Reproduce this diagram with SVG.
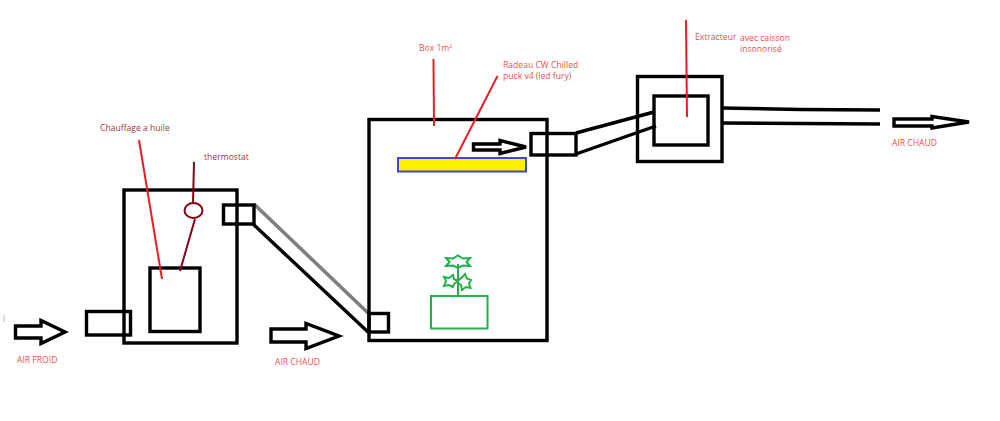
<svg xmlns="http://www.w3.org/2000/svg" width="1000" height="421" viewBox="0 0 1000 421">
<style>
.k{fill:none;stroke:#000;stroke-width:3.400}
.a{fill:#fff;stroke:#000;stroke-width:3.400;stroke-linejoin:miter}
.r{fill:none;stroke:#ed1c24;stroke-width:2}
.d{fill:none;stroke:#880015;stroke-width:2}
.g{fill:none;stroke:#22b14c;stroke-width:2}
text{font-family:"Open Sans","Noto Sans","Liberation Sans",sans-serif;font-size:8.6px;fill:#ed1c24;fill-opacity:.85}
text.m{fill:#880015}
</style>
<rect width="1000" height="421" fill="#fff"/>
<g id="connectors">
<path d="M254 204L368 313" fill="none" stroke="#7f7f7f" stroke-width="3.600"/>
<path class="k" d="M253 224L368 332"/>
<path class="k" d="M576 133L654 112M576 154L656 126"/>
<path class="k" d="M722 108L800 109.500L880 110M722 123L800 123.500L880 124"/>
</g>
<g id="chauffage">
<rect class="k" x="124" y="190" width="113" height="153"/>
<rect class="k" x="150" y="268" width="50" height="63.500"/>
<rect class="k" x="86.500" y="311.500" width="44" height="23.500"/>
<rect class="k" x="223.500" y="205" width="30.500" height="19"/>
<path class="r" d="M139 140L162 279"/>
<text class="m" x="100" y="131">Chauffage a huile</text>
</g>
<g id="thermostat">
<ellipse class="d" cx="193.500" cy="210.500" rx="9" ry="7.500"/>
<path class="d" d="M194 162L193 203M195 219L180 271"/>
<text class="m" x="204" y="160">thermostat</text>
</g>
<g id="box">
<rect class="k" x="369" y="119.500" width="178" height="221"/>
<rect class="k" x="369" y="313.500" width="19.500" height="18.500"/>
<rect class="k" x="531" y="133.500" width="45" height="21.500"/>
<path class="r" d="M433.500 59L434 126"/>
<text x="419" y="51">Box 1m²</text>
</g>
<g id="radeau">
<rect x="398" y="158" width="128" height="13.500" fill="#fff200" stroke="#3f48cc" stroke-width="2"/>
<path class="r" d="M497.500 76L455 159"/>
<text x="503" y="68">Radeau CW Chilled</text>
<text x="503" y="79">puck v4 (led fury)</text>
</g>
<g id="plante">
<rect class="g" x="431" y="296" width="56.500" height="32.500"/>
<path class="g" d="M458 296V264"/>
<path class="g" d="M446 258L453 258.500L458 255.500L463 258.500L470 258L466.500 262L470 266L463 265.500L458 268L453 265.500L446 266L449.500 262Z"/>
<path class="g" d="M444 277L449 278L453 275L454 279L458 281L454 284L453 287L449 285L444 286L446 281Z"/>
<path class="g" d="M458 280L461 278.500L465 274L467 278.500L471 280L469 283.500L470.500 288L466 287L462 290L461 285L458 283Z"/>
</g>
<g id="extracteur">
<rect class="k" x="637.500" y="76.500" width="84.500" height="85"/>
<rect class="k" x="654" y="96" width="54" height="49"/>
<path class="r" d="M686 20L687 117"/>
<text x="695" y="40">Extracteur</text>
<text x="740" y="41">avec caisson</text>
<text x="740" y="52">insonorisé</text>
</g>
<g id="air-froid">
<path class="a" d="M15.500 326H41V320.500L65 332L41 343.500V338H15.500Z"/>
<text x="17" y="363">AIR FROID</text>
<text x="3" y="322" style="fill:#888">l</text>
</g>
<g id="air-chaud-1">
<path class="a" d="M271 329H306V323.500L339 336L306 348.500V342H271Z"/>
<text x="275" y="365">AIR CHAUD</text>
</g>
<g id="air-interne">
<path class="a" d="M473.500 144H500V140.500L526 147L500 153.500V150H473.500Z"/>
</g>
<g id="air-chaud-2">
<path class="a" d="M894 119H932V116.500L969 122L932 128V126H894Z"/>
<text x="892" y="146">AIR CHAUD</text>
</g>
</svg>
